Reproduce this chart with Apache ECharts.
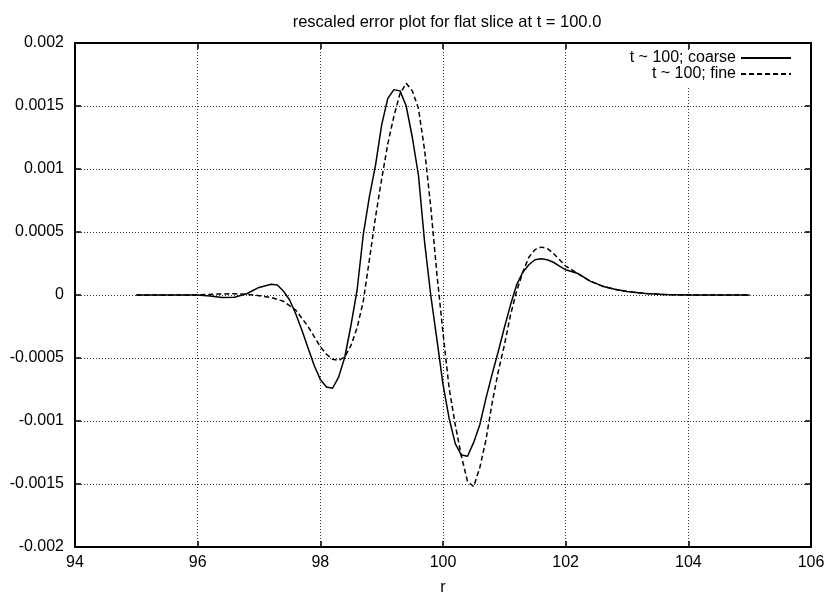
<!DOCTYPE html>
<html>
<head>
<meta charset="utf-8">
<script src="https://cdn.jsdelivr.net/npm/echarts@6/dist/echarts.min.js"></script>
<style>
html,body{margin:0;padding:0;background:#fff;}
#chart{width:831px;height:598px;}
</style>
</head>
<body>
<div id="chart"></div>
<script>
var titleText = 'rescaled error plot for flat slice at t = 100.0';
var seriesNames = ['t ~ 100; coarse', 't ~ 100; fine'];
var xTicks = [94, 96, 98, 100, 102, 104, 106];
var yTicks = [-0.002, -0.0015, -0.001, -0.0005, 0, 0.0005, 0.001, 0.0015, 0.002];

var rCoarse = [95.0, 95.5, 96.0, 96.2, 96.4, 96.6, 96.8, 97.0, 97.2, 97.3, 97.4, 97.5, 97.6, 97.7, 97.8, 97.9,
  98.0, 98.1, 98.2, 98.3, 98.4, 98.5, 98.6, 98.7, 98.8, 98.9, 99.0, 99.1, 99.2, 99.3, 99.4, 99.5, 99.6, 99.7, 99.8, 99.9,
  100.0, 100.1, 100.2, 100.3, 100.4, 100.5, 100.6, 100.7, 100.8, 100.9, 101.0, 101.1, 101.2, 101.3, 101.4, 101.5,
  101.6, 101.7, 101.8, 101.9, 102.0, 102.2, 102.4, 102.6, 102.8, 103.0, 103.3, 103.6, 104.0, 105.0];
var eCoarse = [0, 0, 0, -0.000008, -0.00002, -0.000018, 0.00001, 0.00006, 0.000085, 0.00008, 0.00003, -0.00004, -0.00015, -0.00028, -0.00042, -0.00056,
  -0.00067, -0.00073, -0.00074, -0.00065, -0.00049, -0.00024, 0.00004, 0.00048, 0.00078, 0.00103, 0.00135, 0.00156, 0.00163, 0.00162, 0.0015, 0.00125, 0.00095, 0.00042, 0.0, -0.00035,
  -0.00071, -0.00098, -0.00118, -0.00127, -0.00128, -0.00117, -0.00103, -0.00082, -0.00063, -0.00045, -0.00026, -0.00008, 0.00008, 0.00018, 0.00024, 0.00028,
  0.000287, 0.00028, 0.00026, 0.00023, 0.0002, 0.00017, 0.00011, 0.00007, 0.000045, 0.000027, 0.000012, 0.000004, 0, 0];

var rFine = [95.0, 96.0, 96.3, 96.6, 96.8, 97.0, 97.2, 97.4, 97.6, 97.8, 97.9,
  98.0, 98.1, 98.2, 98.3, 98.4, 98.5, 98.6, 98.7, 98.8, 98.9, 99.0, 99.1, 99.2, 99.3, 99.4, 99.5, 99.6, 99.7, 99.8, 99.9,
  100.0, 100.1, 100.2, 100.3, 100.4, 100.5, 100.6, 100.7, 100.8, 100.9, 101.0, 101.1, 101.2, 101.3, 101.4, 101.5,
  101.6, 101.7, 101.8, 101.9, 102.0, 102.2, 102.4, 102.6, 102.8, 103.0, 103.3, 103.6, 104.0, 105.0];
var eFine = [0, 0, 0.000008, 0.00001, 0.000005, -0.000005, -0.00002, -0.00005, -0.00012, -0.00025, -0.00033,
  -0.00041, -0.00047, -0.00051, -0.00052, -0.00049, -0.0004, -0.00026, -0.00005, 0.00028, 0.00062, 0.00092, 0.0012, 0.00142, 0.0016, 0.00168, 0.00162, 0.00148, 0.00115, 0.0007, 0.00017,
  -0.0003, -0.00074, -0.00103, -0.00128, -0.00148, -0.00152, -0.00137, -0.00115, -0.00086, -0.00061, -0.0004, -0.00016, 0.00003, 0.00018, 0.0003, 0.00036,
  0.00038, 0.00037, 0.00033, 0.00028, 0.00023, 0.00017, 0.00011, 0.00007, 0.000045, 0.000027, 0.000012, 0.000004, 0, 0];

function zip(xs, ys) { return xs.map(function (x, i) { return [x, ys[i]]; }); }
function fmtY(v) {
  var r = parseFloat(Number(v).toPrecision(6));
  for (var i = 0; i < yTicks.length; i++) { if (Math.abs(yTicks[i] - r) < 1e-9) { return yTicks[i] === 0 ? '0' : String(yTicks[i]); } }
  return '';
}

var FONT = 'Liberation Sans, Arial, Helvetica, sans-serif';
var chart = echarts.init(document.getElementById('chart'), null, { renderer: 'canvas' });

var splitDotted = { show: true, lineStyle: { color: '#333', width: 1, type: [1, 2] } };

chart.setOption({
  animation: false,
  backgroundColor: '#fff',
  title: {
    text: titleText, left: 442, top: 9, textAlign: 'center',
    textStyle: { fontFamily: FONT, fontSize: 16.5, fontWeight: 'normal', color: '#000' }
  },
  legend: {
    orient: 'vertical', align: 'right', right: 37, top: 50, padding: [0, 2, 6, 4],
    backgroundColor: '#fff',
    itemWidth: 50, itemHeight: 12, itemGap: 0,
    textStyle: { fontFamily: FONT, fontSize: 16, lineHeight: 14, color: '#000' },
    itemStyle: { color: 'transparent', borderColor: 'transparent', borderWidth: 0, opacity: 0 },
    data: [seriesNames[0], seriesNames[1]]
  },
  grid: { left: 75, right: 20, top: 43, bottom: 51, show: false, outerBoundsMode: 'none', containLabel: false },
  xAxis: [{
    type: 'value', min: 94, max: 106, interval: 2,
    name: 'r', nameLocation: 'middle', nameGap: 33,
    nameTextStyle: { fontFamily: FONT, fontSize: 16, color: '#000' },
    axisLine: { show: true, onZero: false, lineStyle: { color: '#000', width: 2 } },
    axisTick: { show: true, inside: true, length: 6, lineStyle: { color: '#000', width: 1.5 } },
    axisLabel: { fontFamily: FONT, fontSize: 16, color: '#000', margin: 8,
      formatter: function (v) { return xTicks.indexOf(v) >= 0 ? String(v) : ''; } },
    splitLine: splitDotted
  }, {
    type: 'value', position: 'top', min: 94, max: 106, interval: 2,
    axisLine: { show: true, onZero: false, lineStyle: { color: '#000', width: 2 } },
    axisTick: { show: true, inside: true, length: 6, lineStyle: { color: '#000', width: 1.5 } },
    axisLabel: { show: false }, splitLine: { show: false }
  }],
  yAxis: [{
    type: 'value', min: -0.002, max: 0.002, interval: 0.0005,
    axisLine: { show: true, onZero: false, lineStyle: { color: '#000', width: 2 } },
    axisTick: { show: true, inside: true, length: 6, lineStyle: { color: '#000', width: 1.5 } },
    axisLabel: { fontFamily: FONT, fontSize: 16, color: '#000', margin: 11, formatter: fmtY },
    splitLine: splitDotted
  }, {
    type: 'value', position: 'right', min: -0.002, max: 0.002, interval: 0.0005,
    axisLine: { show: true, onZero: false, lineStyle: { color: '#000', width: 2 } },
    axisTick: { show: true, inside: true, length: 6, lineStyle: { color: '#000', width: 1.5 } },
    axisLabel: { show: false }, splitLine: { show: false }
  }],
  series: [{
    name: seriesNames[0], type: 'line', showSymbol: false, symbol: 'none',
    data: zip(rCoarse, eCoarse),
    lineStyle: { color: '#000', width: 1.5, type: 'solid' },
    itemStyle: { color: '#000' }
  }, {
    name: seriesNames[1], type: 'line', showSymbol: false, symbol: 'none',
    data: zip(rFine, eFine),
    lineStyle: { color: '#000', width: 1.5, type: [5, 3] },
    itemStyle: { color: '#000' }
  }]
});
</script>
</body>
</html>
